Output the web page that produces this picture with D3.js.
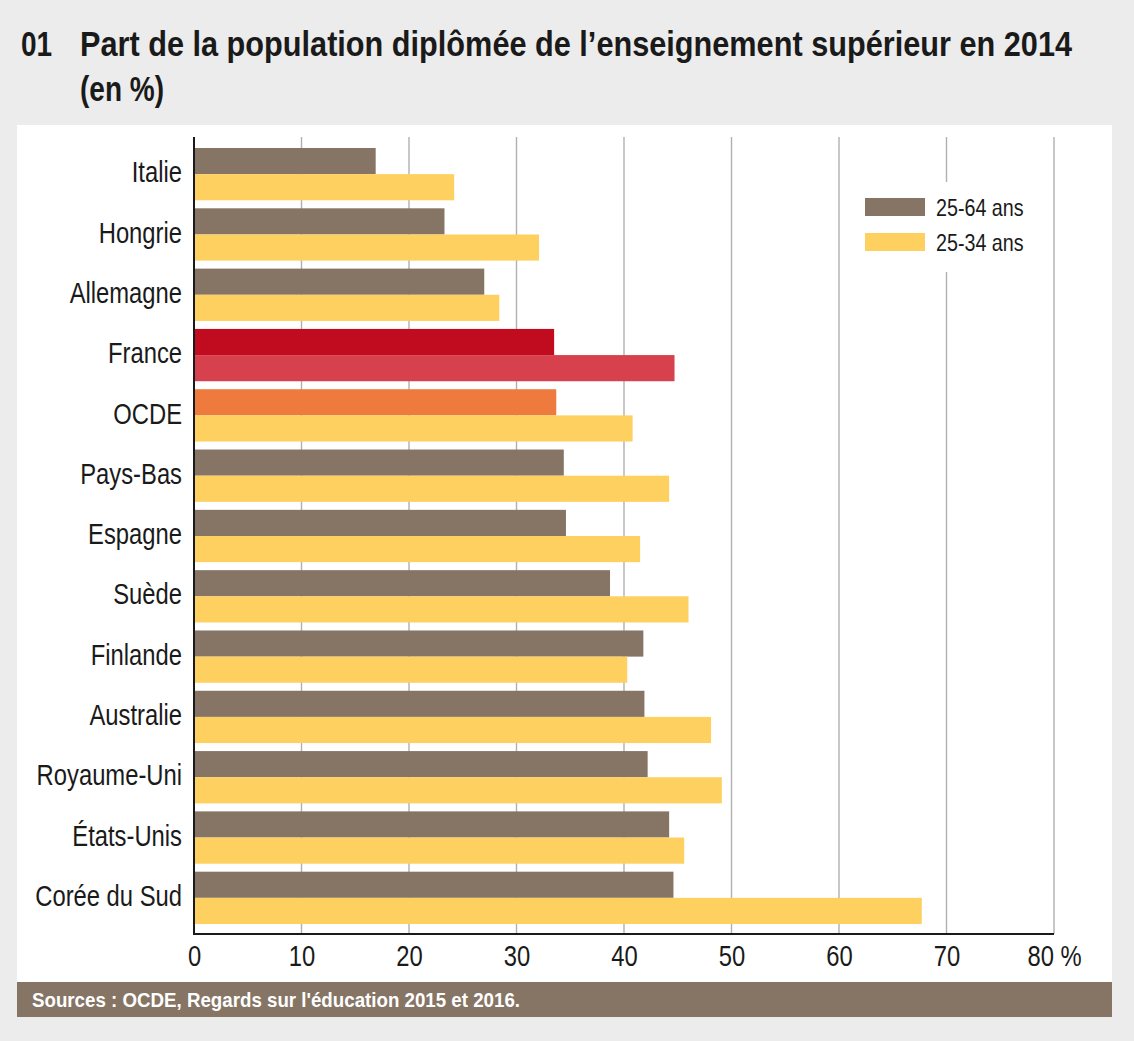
<!DOCTYPE html>
<html>
<head>
<meta charset="utf-8">
<script src="https://cdn.jsdelivr.net/npm/d3@7"></script>
<style>
  body { margin: 0; background: #ececec; }
  svg { display: block; font-family: "Liberation Sans", Arial, sans-serif; }
</style>
</head>
<body>
<svg width="1134" height="1041"></svg>
<script>
var countries = ['Italie', 'Hongrie', 'Allemagne', 'France', 'OCDE', 'Pays-Bas', 'Espagne',
  'Suède', 'Finlande', 'Australie', 'Royaume-Uni', 'États-Unis', 'Corée du Sud'];
var series = ['25-64 ans', '25-34 ans'];
var age2564 = [16.9, 23.3, 27.0, 33.5, 33.7, 34.4, 34.6, 38.7, 41.8, 41.9, 42.2, 44.2, 44.6];
var age2534 = [24.2, 32.1, 28.4, 44.7, 40.8, 44.2, 41.5, 46.0, 40.3, 48.1, 49.1, 45.6, 67.7];
var tickValues = [0, 10, 20, 30, 40, 50, 60, 70, 80];

var svg = d3.select('svg'),
  w = +svg.attr('width'),
  h = +svg.attr('height');

// colours
var colors = { '25-64 ans': '#867565', '25-34 ans': '#fdd05f' };
var special = {
  'France': { '25-64 ans': '#c10b1f', '25-34 ans': '#d7404d' },
  'OCDE': { '25-64 ans': '#ee7a3e', '25-34 ans': '#fdd05f' }
};

// no narrow font installed: squeeze Liberation Sans horizontally
function squeeze(sel, k) {
  sel.each(function() {
    var len = this.getComputedTextLength();
    d3.select(this).attr('textLength', len * k).attr('lengthAdjust', 'spacingAndGlyphs');
  });
}

svg.append('rect').attr('width', w).attr('height', h).attr('fill', '#ececec');

// title
var title = svg.append('g').attr('fill', '#1a1a1a').attr('font-weight', 'bold').attr('font-size', 35);
title.append('text').attr('x', 21).attr('y', 56).text('01').call(squeeze, 0.8);
title.append('text').attr('x', 80).attr('y', 56)
  .text('Part de la population diplômée de l’enseignement supérieur en 2014')
  .attr('textLength', 992).attr('lengthAdjust', 'spacingAndGlyphs');
title.append('text').attr('x', 80).attr('y', 101).text('(en %)').call(squeeze, 0.8);

// panel + footer
svg.append('rect').attr('x', 17).attr('y', 125).attr('width', 1095).attr('height', 857).attr('fill', '#fff');
svg.append('rect').attr('x', 17).attr('y', 982).attr('width', 1095).attr('height', 35).attr('fill', '#867565');
svg.append('text').attr('x', 32).attr('y', 1007).attr('fill', '#fff')
  .attr('font-weight', 'bold').attr('font-size', 21)
  .text('Sources : OCDE, Regards sur l\'éducation 2015 et 2016.')
  .attr('textLength', 488).attr('lengthAdjust', 'spacingAndGlyphs');

/** Scales **/
var x = d3.scaleLinear().domain([0, 80]).range([194, 1054]);
var y = d3.scaleBand().domain(countries).range([144, 928]);
var y1 = d3.scaleBand().domain(series).range([4, y.bandwidth() - 4]);

var plotTop = 137, axisY = 934;

// gridlines
svg.append('g').selectAll('line')
  .data(tickValues.slice(1))
  .enter().append('line')
  .attr('x1', function(d) { return x(d); })
  .attr('x2', function(d) { return x(d); })
  .attr('y1', plotTop).attr('y2', axisY)
  .attr('stroke', '#b0b0b0').attr('stroke-width', 1.4);

// legend box hides part of a gridline
var legend = svg.append('g');
legend.append('rect').attr('x', 852).attr('y', 182).attr('width', 190).attr('height', 90).attr('fill', '#fff');
var li = legend.selectAll('g.item').data(series).enter().append('g')
  .attr('transform', function(d, i) { return 'translate(865,' + (198 + i * 35) + ')'; });
li.append('rect').attr('width', 60).attr('height', 18).attr('fill', function(d) { return colors[d]; });
li.append('text').attr('x', 71).attr('y', 18).attr('font-size', 24).attr('fill', '#1a1a1a')
  .text(function(d) { return d; })
  .call(squeeze, 0.82);

// bars
var rows = countries.map(function(c, i) {
  return { country: c, values: [
    { key: series[0], value: age2564[i] },
    { key: series[1], value: age2534[i] }
  ] };
});

var group = svg.append('g').selectAll('g')
  .data(rows)
  .enter().append('g')
  .attr('transform', function(d) { return 'translate(0,' + y(d.country) + ')'; });

group.selectAll('rect')
  .data(function(d) { return d.values.map(function(v) { return { country: d.country, key: v.key, value: v.value }; }); })
  .enter().append('rect')
  .attr('x', x(0))
  .attr('y', function(d) { return y1(d.key); })
  .attr('height', y1.bandwidth())
  .attr('width', function(d) { return x(d.value) - x(0); })
  .attr('fill', function(d) { return special[d.country] ? special[d.country][d.key] : colors[d.key]; });

// y axis (category labels)
var yAxis = svg.append('g')
  .attr('transform', 'translate(' + x(0) + ',0)')
  .call(d3.axisLeft(y).tickSize(0).tickPadding(12));
yAxis.attr('font-family', null);
yAxis.select('.domain').remove();
yAxis.selectAll('text').attr('font-size', 29).attr('fill', '#1a1a1a').attr('dy', '0.28em')
  .call(squeeze, 0.82);

// x axis
var xAxis = svg.append('g')
  .attr('transform', 'translate(0,' + axisY + ')')
  .call(d3.axisBottom(x).tickValues(tickValues).tickSize(0).tickPadding(11)
    .tickFormat(function(d) { return d === 80 ? '80 %' : d; }));
xAxis.attr('font-family', null);
xAxis.select('.domain').remove();
xAxis.selectAll('text').attr('font-size', 29).attr('fill', '#1a1a1a').attr('dy', '0.71em')
  .call(squeeze, 0.82);

// axis lines
svg.append('line').attr('x1', x(0)).attr('x2', x(80)).attr('y1', axisY).attr('y2', axisY)
  .attr('stroke', '#1a1a1a').attr('stroke-width', 2);
svg.append('line').attr('x1', x(0)).attr('x2', x(0)).attr('y1', plotTop).attr('y2', axisY + 1)
  .attr('stroke', '#1a1a1a').attr('stroke-width', 2);
</script>
</body>
</html>
